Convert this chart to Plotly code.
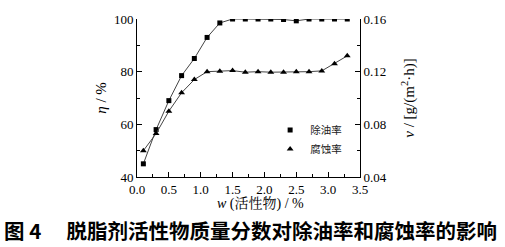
import plotly.graph_objects as go

x_w = [0.1, 0.3, 0.5, 0.7, 0.9, 1.1, 1.3, 1.5, 1.7, 1.9, 2.1, 2.3, 2.5, 2.7, 2.9, 3.1, 3.3]
eta = [45, 58, 69, 78.5, 85, 93, 98.5, 100, 100, 100, 100, 99.8, 99.3, 100, 100, 100, 100]
v_corr = [0.060, 0.073, 0.090, 0.104, 0.114, 0.120, 0.1204, 0.1208, 0.1196, 0.1200,
          0.1196, 0.1196, 0.1200, 0.1200, 0.1206, 0.126, 0.132]
names = ["除油率", "腐蚀率"]

serif = "Liberation Serif, Noto Serif CJK SC, Noto Sans CJK SC"
cjk = "Noto Sans CJK SC"

fig = go.Figure()
fig.add_trace(go.Scatter(x=x_w, y=eta, mode="lines+markers", showlegend=False,
                         line=dict(color="#444", width=1),
                         marker=dict(symbol="square", size=5, color="black")))
fig.add_trace(go.Scatter(x=x_w, y=v_corr, mode="lines+markers", showlegend=False, yaxis="y2",
                         line=dict(color="#444", width=1),
                         marker=dict(symbol="triangle-up", size=6, color="black")))
fig.add_trace(go.Scatter(x=[None], y=[None], mode="markers", name=names[0],
                         marker=dict(symbol="square", size=5, color="black")))
fig.add_trace(go.Scatter(x=[None], y=[None], mode="markers", name=names[1],
                         marker=dict(symbol="triangle-up", size=6, color="black")))

axis_common = dict(ticks="inside", ticklen=5, tickwidth=1, tickcolor="black",
                   showline=True, linecolor="black", linewidth=1, showgrid=False,
                   zeroline=False, tickfont=dict(family=serif, size=13, color="black"))

fig.update_layout(
    width=505, height=247,
    margin=dict(l=137, r=145, t=13, b=70),
    paper_bgcolor="white", plot_bgcolor="white",
    xaxis=dict(range=[0, 3.5], dtick=0.5, tickformat=".1f",
               minor=dict(dtick=0.25, ticks="inside", ticklen=3, tickcolor="black"),
               **axis_common),
    yaxis=dict(range=[40, 100], dtick=20,
               minor=dict(dtick=10, ticks="inside", ticklen=3, tickcolor="black"),
               title=dict(text="<i>η</i> / %", font=dict(family=serif, size=15, color="black"),
                          standoff=3),
               **axis_common),
    yaxis2=dict(range=[0.04, 0.16], dtick=0.04, tickformat=".2f", overlaying="y", side="right",
                minor=dict(dtick=0.02, ticks="inside", ticklen=3, tickcolor="black"),
                title=dict(text="<i>v</i> / [g/(m<sup>2</sup>·h)]",
                           font=dict(family=serif, size=15, color="black"), standoff=17),
                **axis_common),
    legend=dict(x=0.597, y=0.39, xanchor="left", yanchor="top", bgcolor="rgba(0,0,0,0)",
                font=dict(family=cjk, size=10.5, color="#222"), tracegroupgap=0,
                itemwidth=30),
    annotations=[
        dict(text="<i>w</i> (活性物) / %", xref="paper", yref="paper", x=0.556, y=-0.165,
             xanchor="center", yanchor="middle", showarrow=False,
             font=dict(family=serif, size=14, color="black")),
        dict(text="<b>图 4　 脱脂剂活性物质量分数对除油率和腐蚀率的影响</b>",
             xref="paper", yref="paper", x=-137/223 + 0.01, y=-0.23,
             xanchor="left", yanchor="top", showarrow=False,
             font=dict(family=cjk, size=20.5, color="black"))],
)

fig.write_html("out.html")
